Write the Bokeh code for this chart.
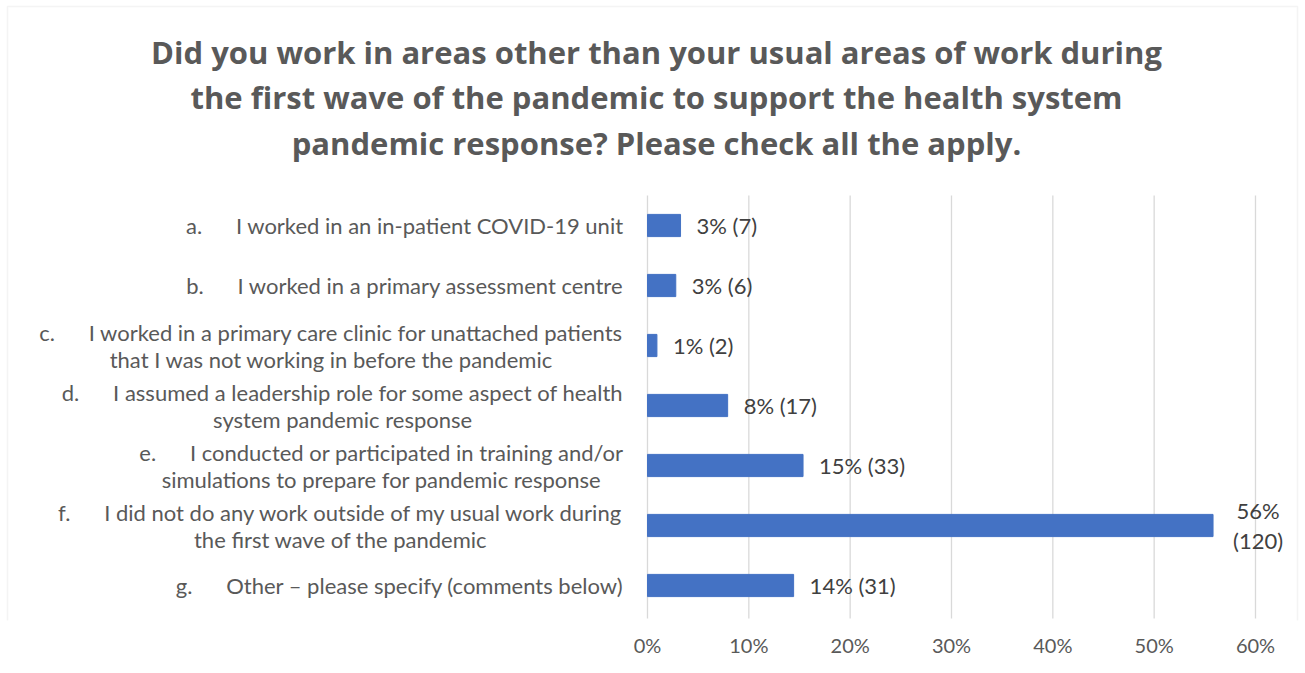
from bokeh.plotting import figure
from bokeh.models import Range1d, Label, BoxAnnotation, FixedTicker
from bokeh.embed import file_html
from bokeh.resources import INLINE

# ---- data ----
letters = ["a.", "b.", "c.", "d.", "e.", "f.", "g."]
label_lines = [
    ["I worked in an in-patient COVID-19 unit"],
    ["I worked in a primary assessment centre"],
    ["I worked in a primary care clinic for unattached patients",
     "that I was not working in before the pandemic"],
    ["I assumed a leadership role for some aspect of health",
     "system pandemic response"],
    ["I conducted or participated in training and/or",
     "simulations to prepare for pandemic response"],
    ["I did not do any work outside of my usual work during",
     "the first wave of the pandemic"],
    ["Other \u2013 please specify (comments below)"],
]
pct = [3.26, 2.79, 0.93, 7.91, 15.35, 55.81, 14.42]
counts = [7, 6, 2, 17, 33, 120, 31]
value_labels = ["3% (7)", "3% (6)", "1% (2)", "8% (17)", "15% (33)", "56%\n(120)", "14% (31)"]
ticks = [0, 10, 20, 30, 40, 50, 60]
tick_labels = ["0%", "10%", "20%", "30%", "40%", "50%", "60%"]
title_lines = [
    "Did you work in areas other than your usual areas of work during",
    "the first wave of the pandemic to support the health system",
    "pandemic response? Please check all the apply.",
]

# ---- layout (pixels) ----
W, H = 1305, 673
n = len(letters)
BOTTOM_BORDER = 53                 # space for the x axis below the frame
FRAME_H = H - BOTTOM_BORDER        # frame spans the full width and the top of the canvas
X0_PX, X1_PX = 647, 1255           # pixel positions of 0% and 60%
Y0_PX, Y1_PX = 195, 615            # pixel positions of the category band
ux = (X1_PX - X0_PX) / ticks[-1]   # px per percent
uy = (Y1_PX - Y0_PX) / n           # px per category

x_start = -X0_PX / ux
x_end = ticks[-1] + (W - X1_PX) / ux
y_top = -Y0_PX / uy
y_bottom = n + (FRAME_H - Y1_PX) / uy


def px_x(px):
    return (px - X0_PX) / ux


def px_y(py):
    return (py - Y0_PX) / uy


p = figure(width=W, height=H, output_backend="svg", toolbar_location=None,
           x_range=Range1d(x_start, x_end), y_range=Range1d(y_bottom, y_top),
           min_border_left=0, min_border_right=0, min_border_top=0,
           min_border_bottom=BOTTOM_BORDER)
p.outline_line_color = None
p.background_fill_color = "white"
p.border_fill_color = "white"

ys = [i + 0.5 for i in range(n)]

# gridlines only across the category band
p.segment(x0=ticks, x1=ticks, y0=[0] * len(ticks), y1=[n + 0.05] * len(ticks),
          line_color="#D9D9D9", line_width=1.3)

p.hbar(y=ys, left=0, right=pct, height=0.37, fill_color="#4472C4", line_color="#4472C4")

p.yaxis.visible = False
p.grid.visible = False
p.xaxis.ticker = FixedTicker(ticks=ticks)
p.xaxis.major_label_overrides = {t: s for t, s in zip(ticks, tick_labels)}
p.xaxis.axis_line_color = None
p.xaxis.major_tick_line_color = None
p.xaxis.minor_tick_line_color = None
p.xaxis.major_label_text_font = "Lato"
p.xaxis.major_label_text_font_size = "20px"
p.xaxis.major_label_text_color = "#595959"
p.xaxis.major_label_standoff = 6

# category labels
for i in range(n):
    first = letters[i] + "\u00a0" * 6 + label_lines[i][0]
    text = "\n".join([first] + label_lines[i][1:])
    p.add_layout(Label(x=0, y=ys[i], x_offset=-24, text=text,
                       anchor="center_right", text_align="center", text_baseline="middle",
                       text_font="Lato", text_font_size="22px", text_color="#595959",
                       text_line_height=1.0))

# value labels
for i in range(n):
    wrapped = "\n" in value_labels[i]
    p.add_layout(Label(x=pct[i], y=ys[i], x_offset=20 if wrapped else 16, text=value_labels[i],
                       anchor="center_left", text_align="center", text_baseline="middle",
                       text_font="Lato", text_font_size="22px", text_color="#404040",
                       text_line_height=1.1))

# title
p.add_layout(Label(x=px_x(656), y=px_y(97), text="\n".join(title_lines),
                   anchor="center", text_align="center", text_baseline="middle",
                   text_font="Open Sans", text_font_style="bold", text_font_size="31px",
                   text_color="#595959", text_line_height=1.08))

# chart-area border
p.add_layout(BoxAnnotation(left=px_x(7), right=px_x(1297), top=px_y(6), bottom=px_y(700),
                           fill_alpha=0, line_color="#D9D9D9", line_width=1.5, level="overlay"))

open("out.html", "w").write(file_html(p, INLINE))
